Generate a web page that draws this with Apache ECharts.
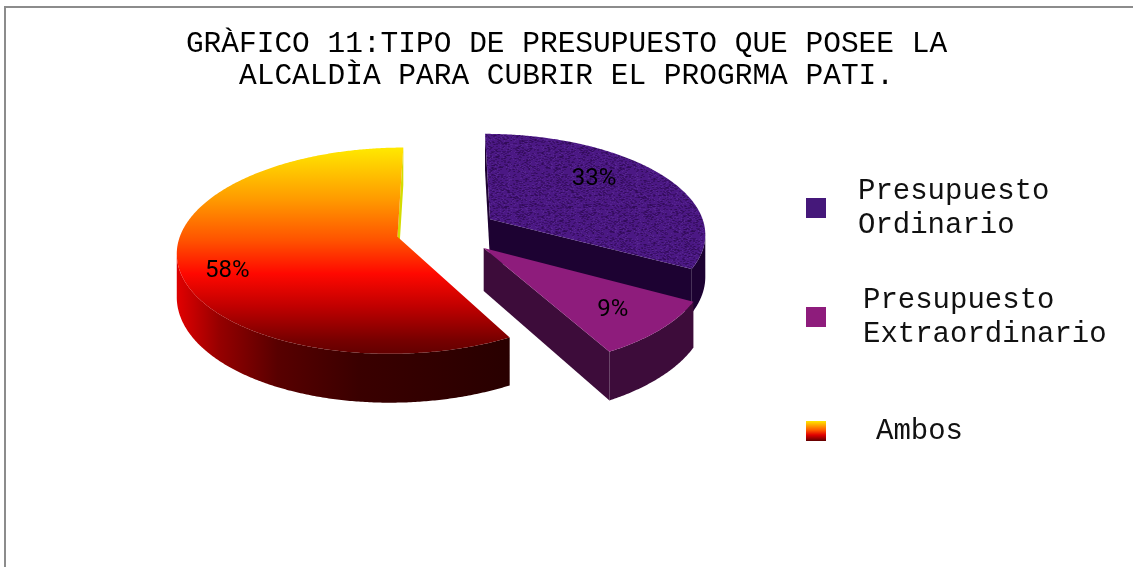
<!DOCTYPE html>
<html>
<head>
<meta charset="utf-8">
<script src="https://cdn.jsdelivr.net/npm/echarts@6/dist/echarts.min.js"></script>
<style>
  html, body { margin: 0; padding: 0; background: #ffffff; }
  #chart { width: 1133px; height: 567px; }
</style>
</head>
<body>
<div id="chart"></div>
<script>
// ---- data -----------------------------------------------------------
const categories = ['Presupuesto Ordinario', 'Presupuesto Extraordinario', 'Ambos'];
const percentValues = [33, 9, 58];
const legendLabels = ['Presupuesto\nOrdinario', 'Presupuesto\nExtraordinario', 'Ambos'];
const titleLines = ['GRÀFICO 11:TIPO DE PRESUPUESTO QUE POSEE LA', 'ALCALDÌA PARA CUBRIR EL PROGRMA PATI.'];

const monoFont = '"Courier New", "Nimbus Mono PS", "FreeMono", "Liberation Mono", monospace';

// ---- 3D pie projection (perspective view of a tilted disc) ----------
const view = { cx: 447, cy: 231, rx: 216, ry: 99.7, persp: 0.133, depth: 42, explode: 0.235 };
const total = percentValues.reduce((a, b) => a + b, 0);

function project(u, v, bottom) {
  const w = 1 + view.persp * v;
  return [view.cx + view.rx * u / w, view.cy - view.ry * v / w + (bottom ? view.depth / w : 0)];
}

function sliceAngles(i) {
  let before = 0;
  for (let j = 0; j < i; j++) before += percentValues[j];
  return [before / total * 2 * Math.PI, (before + percentValues[i]) / total * 2 * Math.PI];
}

// faint woven speckle used on the "Ordinario" top face
function speckle(base) {
  const c = document.createElement('canvas');
  c.width = c.height = 64;
  const g = c.getContext('2d');
  g.fillStyle = base;
  g.fillRect(0, 0, 64, 64);
  for (let y = 0; y < 64; y++) {
    for (let x = 0; x < 64; x++) {
      const h = Math.sin(x * 12.9898 + y * 78.233) * 43758.5453;
      const f = h - Math.floor(h);
      if (f < 0.2) { g.fillStyle = 'rgba(25,0,45,0.3)'; g.fillRect(x, y, 2, 1); }
      else if (f > 0.9) { g.fillStyle = 'rgba(120,70,180,0.25)'; g.fillRect(x, y, 1, 1); }
    }
  }
  return c;
}

const G = echarts.graphic;
const sliceStyle = [
  { top: { image: speckle('#4b1884'), repeat: 'repeat' }, wall: '#1d0232', cut: '#1d0232', legend: '#45187a' },
  { top: '#8e1c7c', wall: '#3d0c3a', cut: '#3d0c3a', legend: '#8e1c7c' },
  {
    top: new G.LinearGradient(0, 148, 0, 354, [
      { offset: 0, color: '#ffe800' }, { offset: 0.25, color: '#ff9a00' },
      { offset: 0.45, color: '#ff5200' }, { offset: 0.61, color: '#ff0800' },
      { offset: 0.77, color: '#c00000' }, { offset: 0.93, color: '#780000' },
      { offset: 1, color: '#620000' }
    ], true),
    wall: new G.LinearGradient(180, 0, 505, 0, [
      { offset: 0, color: '#dc0000' }, { offset: 0.12, color: '#960000' },
      { offset: 0.3, color: '#580000' }, { offset: 0.55, color: '#3a0000' },
      { offset: 1, color: '#290000' }
    ], true),
    cut: '#d4dc00',
    legend: new G.LinearGradient(0, 0, 0, 1, [
      { offset: 0, color: '#ffe800' }, { offset: 0.45, color: '#ff5a00' },
      { offset: 0.7, color: '#e00000' }, { offset: 1, color: '#600000' }
    ])
  }
];
const labelPlace = [{ r: 0.6, dy: -12 }, { r: 0.75, dy: 2 }, { r: 0.78, dy: 14 }];

function renderSlice(i) {
  const [a0, a1] = sliceAngles(i);
  const mid = (a0 + a1) / 2;
  const ua = view.explode * Math.sin(mid), va = view.explode * Math.cos(mid);
  const camV = -1 / view.persp;
  const rim = t => [ua + Math.sin(t), va + Math.cos(t)];
  const children = [];
  const st = sliceStyle[i];

  // outer wall: keep the part that faces the viewer
  const steps = Math.max(8, Math.ceil((a1 - a0) / (Math.PI / 360)));
  let run = [];
  const runs = [];
  for (let s = 0; s <= steps; s++) {
    const t = a0 + (a1 - a0) * s / steps;
    const p = rim(t);
    const facing = Math.sin(t) * (0 - p[0]) + Math.cos(t) * (camV - p[1]) > 0;
    if (facing) run.push(t); else if (run.length) { runs.push(run); run = []; }
  }
  if (run.length) runs.push(run);
  runs.forEach(r => {
    if (r.length < 2) return;
    const topPts = r.map(t => project(...rim(t), false));
    const botPts = r.map(t => project(...rim(t), true)).reverse();
    children.push({ type: 'polygon', silent: true, shape: { points: topPts.concat(botPts) }, style: { fill: st.wall } });
  });

  // radial cut faces
  [[a0, -1], [a1, 1]].forEach(([t, dir]) => {
    const nu = dir * Math.cos(t), nv = -dir * Math.sin(t);
    const r = rim(t);
    const mu = (ua + r[0]) / 2, mv = (va + r[1]) / 2;
    if (nu * (0 - mu) + nv * (camV - mv) <= 0) return;
    const pts = [project(ua, va, false), project(r[0], r[1], false), project(r[0], r[1], true), project(ua, va, true)];
    children.push({ type: 'polygon', silent: true, shape: { points: pts }, style: { fill: st.cut } });
  });

  // top face
  const topFace = [project(ua, va, false)];
  for (let s = 0; s <= steps; s++) {
    const t = a0 + (a1 - a0) * s / steps;
    topFace.push(project(...rim(t), false));
  }
  children.push({ type: 'polygon', silent: true, shape: { points: topFace }, style: { fill: st.top } });

  // percentage label
  const lp = labelPlace[i];
  const lpt = project(ua + lp.r * Math.sin(mid), va + lp.r * Math.cos(mid), false);
  children.push({
    type: 'text', silent: true, x: lpt[0], y: lpt[1] + lp.dy,
    style: { text: percentValues[i] + '%', align: 'center', verticalAlign: 'middle',
             fontFamily: 'Roboto', fontSize: 24, fill: '#000000' }
  });
  return { type: 'group', children };
}

const series = categories.map((name, i) => ({
  type: 'custom',
  name,
  coordinateSystem: 'none',
  itemStyle: { color: sliceStyle[i].legend },
  data: [percentValues[i]],
  renderItem: () => renderSlice(i)
}));

const legendPos = [
  { top: 174, padding: [0, 0, 0, 27] },
  { top: 283, padding: [0, 0, 0, 32] },
  { top: 408, padding: [12, 0, 0, 45] }
];
const legends = categories.map((name, i) => ({
  data: [{ name, icon: 'rect', itemStyle: { color: sliceStyle[i].legend } }],
  selectedMode: false,
  left: 806,
  top: legendPos[i].top,
  padding: 0,
  itemWidth: 20,
  itemHeight: 20,
  formatter: () => legendLabels[i],
  textStyle: { fontFamily: monoFont, fontSize: 29, lineHeight: 34, color: '#111111', padding: legendPos[i].padding }
}));

const chart = echarts.init(document.getElementById('chart'), null, { renderer: 'canvas' });
chart.setOption({
  animation: false,
  backgroundColor: '#ffffff',
  title: {
    text: titleLines.join('\n'),
    left: 'center',
    top: 28,
    padding: [0, 0, 0, 14],
    textStyle: { fontFamily: monoFont, fontSize: 29.5, fontWeight: 'normal', color: '#000000', lineHeight: 32 }
  },
  legend: legends,
  graphic: [{
    type: 'rect', silent: true, shape: { x: 5, y: 7, width: 1200, height: 620 },
    style: { fill: 'none', stroke: '#8c8c8c', lineWidth: 2 }
  }],
  series
});
</script>
</body>
</html>
